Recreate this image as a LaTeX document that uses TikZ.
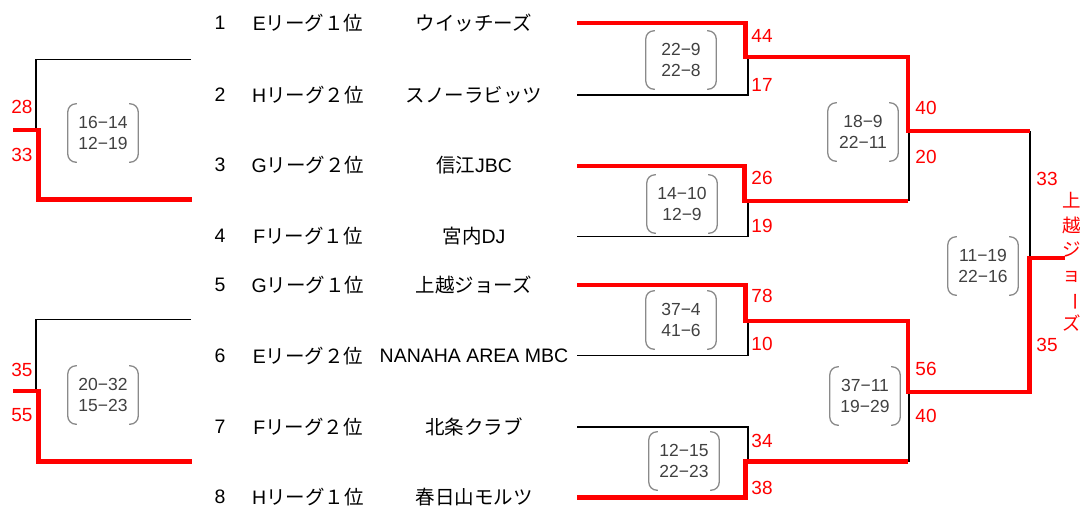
\documentclass[tikz,border=0pt]{standalone}
\usepackage{fontspec}
\setmainfont{Liberation Sans}
\newfontfamily\jp{Noto Sans CJK JP}
\usepackage{graphicx}
\newcommand\J[1]{{\jp #1}}
\definecolor{scoregray}{HTML}{404040}
\definecolor{brkgray}{HTML}{8A8A8A}
\definecolor{winred}{HTML}{FF0000}
\tikzset{
  blk/.style={line width=1.4pt, black},
  win/.style={line width=4.5pt, winred, line join=miter},
  brk/.style={line width=1.3pt, brkgray, rounded corners=8pt},
  scorenode/.style={minimum width=70pt, minimum height=58pt, inner sep=0pt, align=center,
    text=scoregray, font=\fontsize{17.5}{21}\selectfont},
  rowtxt/.style={inner sep=0pt, font=\fontsize{19.5}{22}\selectfont},
  pts/.style={inner sep=0pt, text=winred, font=\fontsize{19}{22}\selectfont},
}
\newcommand\scorebox[5]{%
  \node[scorenode] (#1) at (#2,#3) {#4\\#5};
  \draw[brk] ([xshift=9pt]#1.north west) -- (#1.north west) -- (#1.south west) -- ([xshift=9pt]#1.south west);
  \draw[brk] ([xshift=-9pt]#1.north east) -- (#1.north east) -- (#1.south east) -- ([xshift=-9pt]#1.south east);
}
\begin{document}
\begin{tikzpicture}[x=1pt,y=-1pt]
\useasboundingbox (0,0) rectangle (1084,507);

% row text
\foreach \i/\y/\lg/\tm in {
  1/23/E\J{リーグ１位}/\J{ウイッチーズ},
  2/95/H\J{リーグ２位}/\J{スノーラビッツ},
  3/165/G\J{リーグ２位}/\J{信江}JBC,
  4/236/F\J{リーグ１位}/\J{宮内}DJ,
  5/285/G\J{リーグ１位}/\J{上越ジョーズ},
  6/356/E\J{リーグ２位}/NANAHA AREA MBC,
  7/427/F\J{リーグ２位}/\J{北条クラブ},
  8/497/H\J{リーグ１位}/\J{春日山モルツ}}{
  \node[rowtxt] (num\i) at (220,\y) {\i};
  \node[rowtxt] (lg\i) at (308,\y) {\lg};
  \node[rowtxt] (tm\i) at (474,\y) {\tm};
}

% row line ends
\coordinate (r1) at (577,23);
\coordinate (r2) at (577,95);
\coordinate (r3) at (577,166);
\coordinate (r4) at (577,236.5);
\coordinate (r5) at (577,285);
\coordinate (r6) at (577,355.5);
\coordinate (r7) at (577,427);
\coordinate (r8) at (577,497.5);
% junctions
\coordinate (m1) at (748,57);
\coordinate (m2) at (748,201);
\coordinate (m3) at (748,321);
\coordinate (m4) at (748,461.5);
\coordinate (m1w) at (745.5,57);
\coordinate (m2w) at (744.5,201);
\coordinate (m3w) at (745.5,321);
\coordinate (m4w) at (745.5,461.5);
\coordinate (s1) at (909,131);
\coordinate (s2) at (909,392);
\coordinate (s1w) at (908,131);
\coordinate (s2w) at (908,392);
\coordinate (f1) at (1030,131);
\coordinate (f2) at (1029.5,392);
\coordinate (fc) at (1030,258);
\coordinate (champ) at (1065,258);

% black (losing) lines
\draw[blk] (r2) -| (m1);
\draw[blk] (r4) -| (m2);
\draw[blk] (r6) -| (m3);
\draw[blk] (r7) -| (m4);
\draw[blk] (s1) -- (s1 |- m2);
\draw[blk] (s2) -- (s2 |- m4);
\draw[blk] (f1) -- (fc);

% red (winning) lines
\draw[win] (r1) -| (m1w) -| (s1w) -- (f1);
\draw[win] (r3) -| (m2w) -- (s1w |- m2w);
\draw[win] (r5) -| (m3w) -| (s2w) -| (fc -| f2) -- (champ);
\draw[win] (r8) -| (m4w) -- (s2w |- m4w);

% left side
\coordinate (la1) at (191,59.5);
\coordinate (lj1) at (36,130);
\coordinate (ls1) at (13,130);
\coordinate (lb1) at (192,199.5);
\coordinate (la2) at (191,319.5);
\coordinate (lj2) at (36,391);
\coordinate (ls2) at (13,391);
\coordinate (lb2) at (192,461.5);
\draw[blk] (la1) -| (lj1);
\draw[win] (ls1) -| (38.5,199.5) -- (lb1);
\draw[blk] (la2) -| (lj2);
\draw[win] (ls2) -| (38.5,461.5) -- (lb2);

% points
\node[pts] (p1) at (762,36) {44};
\node[pts] (p2) at (762,84.5) {17};
\node[pts] (p3) at (762,177.5) {26};
\node[pts] (p4) at (762,226) {19};
\node[pts] (p5) at (762,296) {78};
\node[pts] (p6) at (762,344) {10};
\node[pts] (p7) at (762,441) {34};
\node[pts] (p8) at (762,487.5) {38};
\node[pts] (q1) at (926,108) {40};
\node[pts] (q2) at (926,157) {20};
\node[pts] (q3) at (926,368.5) {56};
\node[pts] (q4) at (926,416) {40};
\node[pts] (z1) at (1047,179) {33};
\node[pts] (z2) at (1047,345) {35};
\node[pts] (y1) at (22,107) {28};
\node[pts] (y2) at (22,154.5) {33};
\node[pts] (y3) at (22,369.5) {35};
\node[pts] (y4) at (22,415.5) {55};

% champion (vertical)
\node[inner sep=0pt, align=center, text=winred, font=\jp\fontsize{18.5}{24.5}\selectfont] (champname) at (1072,262)
  {上\\越\\ジ\\ョ\\\rotatebox[origin=c]{-90}{ー}\\ズ};

% score boxes
\scorebox{sc1}{681}{60}{22−9}{22−8}
\scorebox{sc2}{682}{204}{14−10}{12−9}
\scorebox{sc3}{681}{320}{37−4}{41−6}
\scorebox{sc4}{684}{461}{12−15}{22−23}
\scorebox{sc5}{863}{132}{18−9}{22−11}
\scorebox{sc6}{865}{396}{37−11}{19−29}
\scorebox{sc7}{983}{266}{11−19}{22−16}
\scorebox{sc8}{103}{133}{16−14}{12−19}
\scorebox{sc9}{103}{395}{20−32}{15−23}
\end{tikzpicture}
\end{document}
